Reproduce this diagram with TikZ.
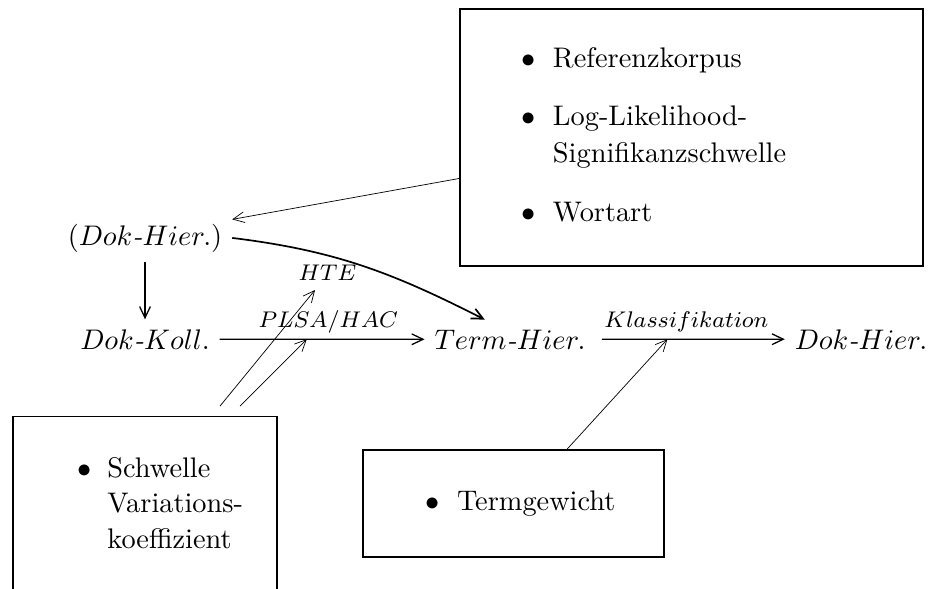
\documentclass[tikz,border=0pt]{standalone}
\usepackage{tikz}
\usetikzlibrary{arrows.meta}

\begin{document}
\begin{tikzpicture}[x=0.353pt, y=-0.353pt,
    obj/.style={anchor=base},
    lbl/.style={font=\footnotesize},
    infobox/.style={draw, line width=0.5pt, inner sep=0pt},
    flow/.style={-{Straight Barb[length=4pt,width=3.8pt]}, line width=0.45pt},
    hint/.style={-{Straight Barb[length=4pt,width=3.8pt]}, line width=0.25pt}]
    \useasboundingbox (0,0) rectangle (931,588);

    % Chain of objects
    \node[obj] (dokhierA) at (145,245) {$(Dok\textit{-}Hier.)$};
    \node[obj] (dokkoll) at (145,349) {$Dok\textit{-}Koll.$};
    \node[obj] (termhier) at (510,349) {$Term\textit{-}Hier.$};
    \node[obj] (dokhierB) at (861,349) {$Dok\textit{-}Hier.$};
    \node[obj, lbl] (hte) at (327.5,280) {$HTE$};

    % Parameter boxes
    \node[infobox, minimum width=163.4pt, minimum height=90.7pt] (refbox) at (691.5,137.5) {\makebox[119.8pt][l]{%
        \begin{tabular}{@{}c@{\hspace{6pt}}l@{}}
        $\bullet$ & Referenzkorpus\\[8.5pt]
        $\bullet$ & Log-Likelihood-\\[1pt]
                  & Signifikanzschwelle\\[9pt]
        $\bullet$ & Wortart
        \end{tabular}}};
    \node[infobox, minimum width=93.2pt, minimum height=63pt] (varbox) at (145,506) {\makebox[48pt][l]{%
        \begin{tabular}{@{}c@{\hspace{5.7pt}}l@{}}
        $\bullet$ & Schwelle\\[0.5pt]
                  & Variations-\\[0.5pt]
                  & koeffizient
        \end{tabular}}};
    \node[infobox, minimum width=106.3pt, minimum height=37.8pt] (termbox) at (513.5,503.5) {\makebox[61.8pt][l]{%
        \begin{tabular}{@{}c@{\hspace{6pt}}l@{}}
        $\bullet$ & Termgewicht
        \end{tabular}}};

    % Main arrows
    \draw[flow] (dokhierA) -- (dokkoll);
    \draw[flow] (dokkoll) -- node[lbl, pos=0.53, anchor=base, yshift=4.3pt] {$PLSA/HAC$} coordinate[pos=0.425] (plsa) (termhier);
    \draw[flow, shorten <=2.3pt] (termhier) -- node[lbl, pos=0.48, anchor=base, yshift=4.3pt] {$Klassifikation$} coordinate[pos=0.38] (klass) (dokhierB);
    \draw[flow, line width=0.6pt] (dokhierA.east) to[out=-7, in=153] (termhier.142);

    % Parameter arrows
    \draw[hint] (refbox.190) -- (dokhierA.12);
    \draw[hint] ([shift={(75,-10)}]varbox.north) -- ([shift={(-12.5,0)}]hte.south);
    \draw[hint] ([shift={(95,-10)}]varbox.north) -- (plsa);
    \draw[hint] ([shift={(53.5,0)}]termbox.north) -- (klass);
\end{tikzpicture}
\end{document}
